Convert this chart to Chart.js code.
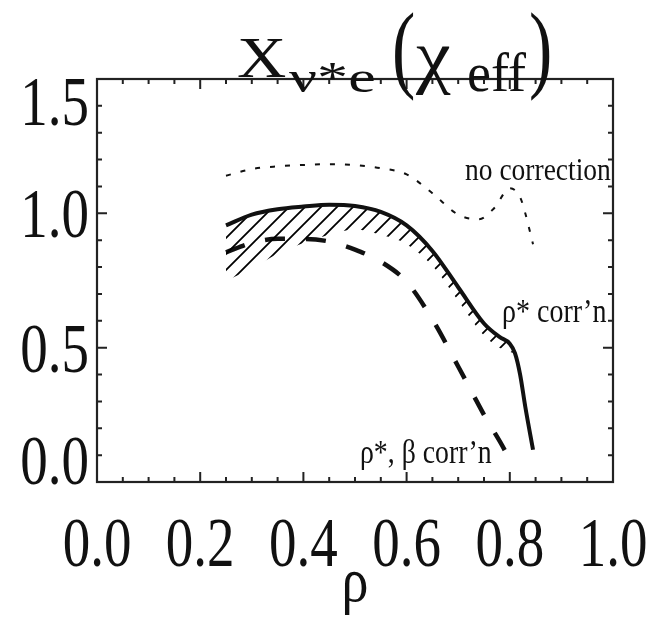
<!DOCTYPE html>
<html>
<head>
<meta charset="utf-8">
<script src="https://cdn.jsdelivr.net/npm/chart.js@4.4.1/dist/chart.umd.min.js"></script>
<style>
html, body { margin: 0; padding: 0; background: #fff; }
#wrap { width: 652px; height: 624px; position: relative; }
</style>
</head>
<body>
<div id="wrap"><canvas id="chart"></canvas></div>
<script>
// values
const rhoSolid = [0.25, 0.30, 0.35, 0.40, 0.45, 0.50, 0.55, 0.60, 0.65, 0.70, 0.75, 0.78, 0.80, 0.81, 0.82, 0.83, 0.845];
const rhoStarCorr = [0.955, 0.995, 1.015, 1.025, 1.032, 1.027, 1.005, 0.955, 0.86, 0.725, 0.59, 0.54, 0.515, 0.48, 0.40, 0.28, 0.12];
const hatchLower = [0.75, 0.795, 0.85, 0.89, 0.92, 0.94, 0.92, 0.885, 0.805, 0.675, 0.545, 0.5, 0.485, 0.47, 0.40, 0.28, 0.12];

const rhoDash = [0.25, 0.30, 0.35, 0.40, 0.45, 0.50, 0.55, 0.60, 0.65, 0.70, 0.75, 0.80, 0.805];
const rhoBetaCorr = [0.855, 0.89, 0.905, 0.905, 0.895, 0.865, 0.82, 0.745, 0.605, 0.43, 0.25, 0.08, 0.055];

const rhoDot = [0.25, 0.30, 0.35, 0.40, 0.45, 0.50, 0.55, 0.60, 0.65, 0.70, 0.74, 0.77, 0.80, 0.82, 0.83, 0.845];
const noCorr = [1.14, 1.165, 1.175, 1.18, 1.183, 1.18, 1.168, 1.145, 1.075, 0.995, 0.978, 1.02, 1.093, 1.06, 1.0, 0.885];

const xTicks = [0.0, 0.2, 0.4, 0.6, 0.8, 1.0];
const xTickLabels = ['0.0', '0.2', '0.4', '0.6', '0.8', '1.0'];
const yTicks = [0.0, 0.5, 1.0, 1.5];
const yTickLabels = ['0.0', '0.5', '1.0', '1.5'];

const pts = (xs, ys) => xs.map((x, i) => ({x: x, y: ys[i]}));

const canvas = document.getElementById('chart');
const ctx = canvas.getContext('2d');

function hatchPattern() {
    const s = 16;
    const c = document.createElement('canvas');
    c.width = s; c.height = s;
    const g = c.getContext('2d');
    g.strokeStyle = '#000';
    g.lineWidth = 1.8;
    g.beginPath();
    g.moveTo(0, s); g.lineTo(s, 0);
    g.moveTo(-s / 2, s / 2); g.lineTo(s / 2, -s / 2);
    g.moveTo(s / 2, s * 1.5); g.lineTo(s * 1.5, s / 2);
    g.stroke();
    return ctx.createPattern(c, 'repeat');
}

const SERIF = '"Liberation Serif", "DejaVu Serif", serif';

function txt(c, s, x, y, size, align, sx, sy) {
    c.save();
    c.translate(x, y);
    c.scale(sx, sy);
    c.font = size + 'px ' + SERIF;
    c.textAlign = align;
    c.textBaseline = 'alphabetic';
    c.fillStyle = '#111';
    c.fillText(s, 0, 0);
    c.restore();
}

const decor = {
    id: 'decor',
    afterDraw(chart) {
        const c = chart.ctx;
        const a = chart.chartArea;
        const xs = chart.scales.x, ys = chart.scales.y;
        c.save();
        c.strokeStyle = '#222';
        c.lineWidth = 2.2;
        c.strokeRect(a.left, a.top, a.right - a.left, a.bottom - a.top);
        c.lineWidth = 2;
        c.beginPath();
        for (let i = 0; i <= 20; i++) {
            const px = xs.getPixelForValue(i * 0.05);
            const len = i % 4 === 0 ? 10 : 5;
            c.moveTo(px, a.bottom); c.lineTo(px, a.bottom - len);
            c.moveTo(px, a.top); c.lineTo(px, a.top + len);
        }
        for (let i = 0; i <= 15; i++) {
            const py = ys.getPixelForValue(i * 0.1);
            const len = i % 5 === 0 ? 10 : 5;
            c.moveTo(a.left, py); c.lineTo(a.left + len, py);
            c.moveTo(a.right, py); c.lineTo(a.right - len, py);
        }
        c.stroke();
        c.restore();

        // tick labels
        xTicks.forEach((v, i) => {
            txt(c, xTickLabels[i], xs.getPixelForValue(v), 566, 55, 'center', 1, 1.27);
        });
        yTicks.forEach((v, i) => {
            const py = ys.getPixelForValue(v);
            const base = Math.min(Math.max(py + 24, a.top + 46), a.bottom + 2);
            txt(c, yTickLabels[i], 89, base, 55, 'right', 1, 1.27);
        });

        // axis title
        txt(c, 'ρ', 355, 601, 54, 'center', 1, 1.17);

        // title
        txt(c, 'X', 237, 77, 56, 'left', 1.22, 1.0);
        txt(c, 'ν*e', 289, 92, 46, 'left', 1.35, 0.95);
        txt(c, '(', 392, 80, 70, 'left', 1, 1.4);
        txt(c, 'χ', 416, 80, 58, 'left', 1.35, 1.25);
        txt(c, 'eff', 467, 91, 54, 'left', 1, 1.0);
        txt(c, ')', 529, 80, 70, 'left', 1, 1.4);

        // curve labels
        txt(c, 'no correction', 465, 179.5, 27.5, 'left', 1, 1.18);
        txt(c, 'ρ* corr’n', 502, 322, 28, 'left', 1, 1.18);
        txt(c, 'ρ*, β corr’n', 360, 463, 27.8, 'left', 1, 1.18);
    }
};

new Chart(ctx, {
    type: 'line',
    data: {
        datasets: [{
            label: 'ρ* corr’n',
            data: pts(rhoSolid, rhoStarCorr),
            borderColor: '#111',
            borderWidth: 4,
            backgroundColor: hatchPattern(),
            fill: 1,
            pointRadius: 0,
            cubicInterpolationMode: 'monotone'
        }, {
            label: 'band',
            data: pts(rhoSolid, hatchLower),
            borderWidth: 0,
            borderColor: 'rgba(0,0,0,0)',
            pointRadius: 0,
            fill: false,
            cubicInterpolationMode: 'monotone'
        }, {
            label: 'ρ*, β corr’n',
            data: pts(rhoDash, rhoBetaCorr),
            borderColor: '#111',
            borderWidth: 4.5,
            borderDash: [20, 21],
            pointRadius: 0,
            fill: false,
            cubicInterpolationMode: 'monotone'
        }, {
            label: 'no correction',
            data: pts(rhoDot, noCorr),
            borderColor: '#111',
            borderWidth: 2,
            borderDash: [5, 10],
            pointRadius: 0,
            fill: false,
            cubicInterpolationMode: 'monotone'
        }]
    },
    options: {
        responsive: true,
        maintainAspectRatio: false,
        animation: false,
        layout: { padding: { left: 97, top: 79, right: 39, bottom: 142 } },
        scales: {
            x: { type: 'linear', min: 0, max: 1, display: false },
            y: { type: 'linear', min: 0, max: 1.5, display: false }
        },
        plugins: {
            legend: { display: false },
            tooltip: { enabled: false }
        }
    },
    plugins: [decor]
});
</script>
</body>
</html>
